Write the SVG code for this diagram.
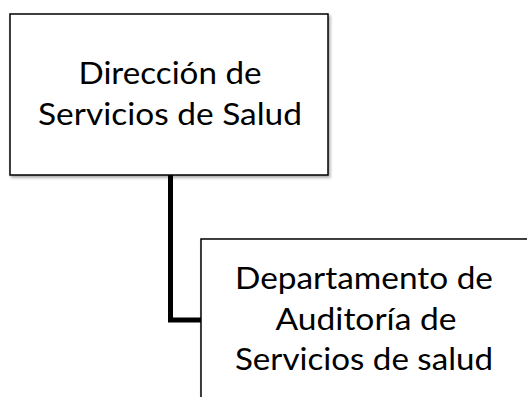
<svg xmlns="http://www.w3.org/2000/svg" width="527" height="397" viewBox="0 0 527 397">
<defs>
<filter id="sh" x="-10%" y="-10%" width="130%" height="130%">
<feDropShadow dx="1.5" dy="2" stdDeviation="1.5" flood-color="#000" flood-opacity="0.35"/>
</filter>
<style>
.box{fill:#fff;stroke:#000;stroke-width:1.5;filter:url(#sh)}
.t{font-family:Lato,"Open Sans",sans-serif;font-size:31px;fill:#000;text-anchor:middle}
.c{fill:none;stroke:#000;stroke-width:5}
</style>
</defs>
<g id="connectors">
<path class="c" d="M170.5 175 V320 H201"/>
</g>
<g id="node1">
<rect class="box" x="10" y="14" width="318" height="161"/>
<text class="t" x="170" y="84" textLength="183" lengthAdjust="spacingAndGlyphs">Dirección de</text>
<text class="t" x="170" y="125" textLength="264" lengthAdjust="spacingAndGlyphs">Servicios de Salud</text>
</g>
<g id="node2">
<rect class="box" x="201" y="239" width="340" height="180"/>
<text class="t" x="364" y="289" textLength="258" lengthAdjust="spacingAndGlyphs">Departamento de</text>
<text class="t" x="366" y="330" textLength="181" lengthAdjust="spacingAndGlyphs">Auditoría de</text>
<text class="t" x="364" y="370" textLength="258" lengthAdjust="spacingAndGlyphs">Servicios de salud</text>
</g>
</svg>
